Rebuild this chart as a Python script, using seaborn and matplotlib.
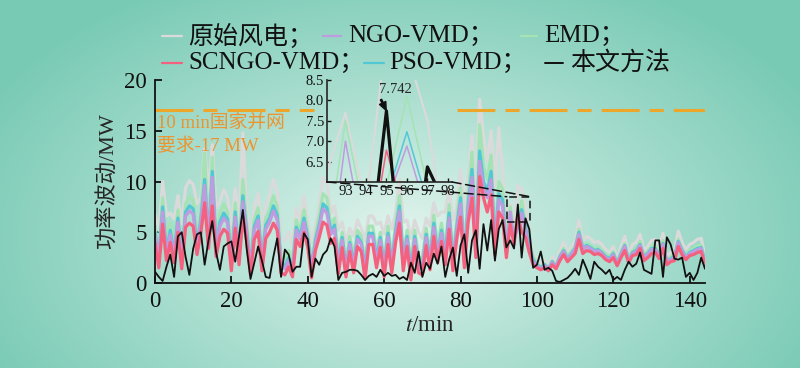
import numpy as np
import pandas as pd
import matplotlib
matplotlib.use('Agg')
import matplotlib.pyplot as plt
import seaborn as sns
from matplotlib.lines import Line2D
from matplotlib.patches import Rectangle, ConnectionPatch

# time axis (min)
t = list(range(145))

# power fluctuation (MW) for each method
raw = [6.8, 5.2, 10.0, 6.6, 6.9, 6.3, 8.6, 5.8, 9.4, 10.1,
       9.7, 7.8, 8.4, 13.2, 9.0, 13.6, 7.4, 8.0, 9.2, 8.4,
       5.4, 9.3, 6.0, 14.8, 7.0, 4.6, 7.5, 8.8, 5.2, 7.6,
       8.6, 10.2, 8.9, 4.6, 4.2, 5.0, 3.8, 7.4, 6.2, 8.6,
       6.0, 4.0, 5.6, 7.8, 10.4, 9.9, 6.8, 7.6, 5.2, 6.0,
       4.0, 5.4, 4.6, 6.2, 5.4, 4.2, 6.6, 6.6, 5.8, 6.0,
       4.8, 6.6, 5.3, 6.9, 10.2, 6.0, 6.2, 4.4, 6.2, 5.0,
       4.4, 6.4, 5.6, 7.9, 6.6, 7.0, 7.0, 9.2, 6.2, 7.4,
       11.2, 7.2, 10.4, 14.5, 9.0, 18.1, 14.5, 12.0, 15.0, 9.6,
       15.3, 11.0, 6.1, 7.7, 5.4, 9.6, 9.2, 7.5, 4.2, 3.0,
       2.2, 1.9, 2.2, 1.8, 2.6, 2.0, 3.2, 4.0, 3.0, 3.6,
       4.2, 6.2, 4.2, 4.6, 4.4, 4.0, 4.1, 3.8, 3.3, 3.0,
       3.6, 2.4, 3.6, 4.6, 2.8, 3.8, 4.0, 4.8, 3.2, 3.6,
       4.2, 4.3, 3.4, 4.9, 2.6, 3.0, 3.2, 5.1, 4.0, 3.3,
       3.8, 4.0, 4.3, 4.4, 2.6]

emd = [5.6, 3.1, 8.4, 3.8, 5.9, 3.6, 7.2, 3.0, 7.8, 8.5,
       8.2, 4.4, 7.0, 12.8, 5.0, 12.4, 4.2, 6.8, 7.8, 7.0,
       2.8, 7.9, 3.4, 10.2, 5.9, 2.4, 6.3, 7.4, 2.8, 6.4,
       7.2, 8.6, 7.5, 2.6, 2.4, 3.2, 2.2, 6.2, 5.2, 7.2,
       5.0, 2.1, 4.7, 6.6, 8.8, 8.4, 5.7, 6.4, 2.5, 5.0,
       2.2, 4.6, 2.6, 5.2, 4.6, 2.0, 5.6, 5.6, 3.1, 5.0,
       2.2, 5.6, 2.6, 5.8, 8.6, 2.8, 5.2, 1.9, 5.2, 2.6,
       2.4, 5.4, 2.9, 6.7, 3.6, 5.9, 3.4, 7.7, 2.8, 6.2,
       9.4, 3.1, 8.8, 12.9, 4.1, 15.6, 11.4, 10.2, 12.6, 4.4,
       10.0, 9.3, 4.1, 7.5, 5.0, 5.9, 8.1, 5.9, 4.0, 2.6,
       1.9, 1.6, 1.9, 1.5, 2.2, 1.7, 2.7, 3.4, 2.6, 3.1,
       3.6, 5.3, 3.6, 3.9, 3.7, 3.4, 3.5, 3.2, 2.8, 2.6,
       3.1, 2.0, 3.1, 3.9, 2.4, 3.2, 3.4, 4.1, 2.7, 3.1,
       3.6, 3.7, 2.9, 4.2, 2.2, 2.6, 2.7, 4.3, 3.4, 2.8,
       3.2, 3.4, 3.7, 3.7, 2.2]

pso = [5.0, 2.4, 7.5, 3.1, 5.2, 2.9, 6.4, 2.3, 7.0, 7.6,
       7.3, 3.7, 6.3, 10.2, 4.3, 11.0, 3.5, 6.0, 6.9, 6.3,
       2.1, 7.0, 2.7, 8.6, 5.2, 1.7, 5.6, 6.6, 2.1, 5.7,
       6.4, 7.6, 6.7, 1.9, 1.7, 2.5, 1.5, 5.5, 4.6, 6.4,
       4.5, 1.4, 4.2, 5.8, 7.8, 7.4, 5.1, 5.7, 1.8, 4.5,
       1.5, 4.0, 1.9, 4.6, 4.0, 1.3, 4.9, 4.9, 2.4, 4.5,
       1.5, 4.9, 1.9, 5.2, 7.6, 2.1, 4.6, 1.2, 4.6, 1.9,
       1.7, 4.8, 2.2, 5.9, 2.9, 5.2, 2.7, 6.9, 2.1, 5.5,
       8.4, 2.4, 7.8, 11.2, 3.4, 13.0, 10.0, 9.0, 11.0, 3.7,
       8.8, 8.2, 3.4, 5.8, 4.6, 5.6, 7.23, 5.5, 3.5, 2.3,
       1.8, 1.5, 1.8, 1.4, 2.1, 1.6, 2.6, 3.2, 2.4, 2.9,
       3.4, 5.0, 3.4, 3.7, 3.5, 3.2, 3.3, 3.0, 2.6, 2.4,
       2.9, 1.9, 2.9, 3.7, 2.2, 3.0, 3.2, 3.8, 2.6, 2.9,
       3.4, 3.4, 2.7, 3.9, 2.1, 2.4, 2.6, 4.1, 3.2, 2.6,
       3.0, 3.2, 3.4, 3.5, 2.1]

ngo = [4.7, 2.1, 7.0, 2.8, 4.8, 2.6, 6.0, 2.0, 6.6, 7.1,
       6.8, 3.4, 5.9, 9.6, 4.0, 10.4, 3.2, 5.6, 6.4, 5.9,
       1.8, 6.5, 2.4, 8.0, 4.9, 1.4, 5.2, 6.2, 1.8, 5.3,
       6.0, 7.1, 6.2, 1.6, 1.4, 2.2, 1.2, 5.2, 4.3, 6.0,
       4.2, 1.1, 3.9, 5.5, 7.3, 6.9, 4.8, 5.3, 1.5, 4.2,
       1.2, 3.8, 1.6, 4.3, 3.8, 1.0, 4.6, 4.6, 2.1, 4.2,
       1.2, 4.6, 1.6, 4.8, 7.1, 1.8, 4.3, 0.9, 4.3, 1.6,
       1.4, 4.5, 1.9, 5.5, 2.6, 4.9, 2.4, 6.4, 1.8, 5.2,
       7.8, 2.1, 7.3, 10.4, 3.1, 12.0, 9.3, 8.4, 10.2, 3.4,
       8.2, 7.6, 3.1, 7.0, 4.3, 5.5, 6.88, 5.2, 3.2, 2.1,
       1.7, 1.4, 1.7, 1.4, 2.0, 1.6, 2.5, 3.1, 2.3, 2.8,
       3.3, 4.8, 3.3, 3.6, 3.4, 3.1, 3.2, 2.9, 2.5, 2.3,
       2.8, 1.8, 2.8, 3.6, 2.1, 2.9, 3.1, 3.7, 2.5, 2.8,
       3.3, 3.3, 2.6, 3.8, 2.0, 2.3, 2.5, 4.0, 3.1, 2.5,
       2.9, 3.1, 3.3, 3.4, 2.0]

scngo = [4.0, 1.5, 5.8, 2.2, 4.0, 2.0, 5.0, 1.4, 5.5, 5.9,
         5.6, 2.8, 4.9, 7.9, 3.4, 7.6, 2.6, 4.6, 5.3, 4.9,
         1.2, 5.4, 1.8, 6.5, 4.1, 0.8, 4.3, 5.1, 1.2, 4.4,
         5.0, 5.9, 5.2, 1.0, 0.8, 1.6, 0.6, 4.3, 3.6, 5.0,
         3.5, 0.5, 3.2, 4.5, 6.0, 5.7, 3.9, 4.4, 0.9, 3.5,
         0.6, 3.1, 1.0, 3.6, 3.1, 0.4, 3.8, 3.8, 1.5, 3.5,
         0.6, 3.8, 1.0, 4.0, 5.9, 1.2, 3.6, 0.3, 3.6, 1.0,
         0.8, 3.7, 1.3, 4.6, 2.0, 4.1, 1.8, 5.3, 1.2, 4.3,
         6.5, 1.5, 6.0, 8.4, 2.5, 10.5, 8.4, 7.0, 8.7, 2.8,
         7.0, 6.4, 2.5, 5.8, 3.8, 6.78, 5.0, 4.5, 3.0, 1.8,
         1.5, 1.3, 1.5, 1.2, 1.8, 1.4, 2.2, 2.8, 2.1, 2.5,
         2.9, 4.3, 2.9, 3.2, 3.1, 2.8, 2.9, 2.7, 2.3, 2.1,
         2.5, 1.7, 2.5, 3.2, 2.0, 2.7, 2.8, 3.4, 2.2, 2.5,
         2.9, 3.0, 2.4, 3.4, 1.8, 2.1, 2.2, 3.6, 2.8, 2.3,
         2.7, 2.8, 3.0, 3.1, 1.8]

ours = [1.1, 0.6, 0.2, 1.6, 2.8, 0.6, 4.6, 5.0, 2.6, 0.8,
        3.4, 4.8, 5.0, 1.8, 4.2, 6.1, 3.0, 1.3, 3.6, 3.9,
        4.1, 2.1, 4.6, 7.2, 3.4, 0.4, 2.0, 3.6, 2.2, 0.6,
        0.5, 2.6, 4.4, 0.6, 3.3, 2.8, 1.1, 1.6, 1.6, 4.9,
        4.3, 0.6, 2.4, 1.8, 2.8, 3.2, 4.4, 3.6, 0.3, 1.0,
        1.1, 1.3, 1.3, 1.2, 0.8, 0.3, 0.7, 0.9, 0.6, 1.3,
        0.7, 1.0, 0.7, 0.8, 0.4, 0.6, 0.3, 2.0, 1.0, 3.1,
        0.6, 2.0, 1.4, 2.9, 1.9, 3.6, 0.6, 2.3, 3.5, 0.7,
        3.7, 4.8, 1.0, 4.2, 5.2, 1.4, 5.8, 3.2, 6.2, 2.2,
        5.3, 6.2, 3.5, 4.2, 3.4, 7.742, 2.5, 6.37, 5.3, 1.5,
        1.8, 3.1, 1.3, 1.5, 1.2, 0.2, 0.1, 0.3, 0.5, 0.9,
        1.4, 0.8, 2.3, 1.4, 0.4, 2.1, 1.6, 1.3, 0.9, 1.3,
        0.3, 0.6, 0.3, 1.3, 2.1, 1.6, 1.9, 3.0, 1.3, 1.1,
        0.9, 4.2, 4.2, 0.6, 4.5, 3.8, 2.4, 2.3, 2.5, 0.6,
        1.0, 0.3, 1.0, 2.5, 1.4]

grid_limit = 17          # 10 min national grid requirement, MW
peak_value = 7.742       # annotated peak of the proposed method
zoom_x = (92.1, 98.2)
zoom_y = (6.0, 8.5)

# draw order (back to front), colours and widths
methods = ['原始风电', 'EMD', 'PSO-VMD', 'NGO-VMD', 'SCNGO-VMD', '本文方法']
series = [raw, emd, pso, ngo, scngo, ours]
colors = {'原始风电': '#dadada', 'EMD': '#a4e3b4', 'PSO-VMD': '#52c8d6',
          'NGO-VMD': '#bf9be0', 'SCNGO-VMD': '#f4617f', '本文方法': '#111111'}
main_lw = {'原始风电': 2.3, 'EMD': 2.3, 'PSO-VMD': 2.3, 'NGO-VMD': 2.3,
           'SCNGO-VMD': 2.3, '本文方法': 1.3}
inset_lw = {'原始风电': 1.5, 'EMD': 1.1, 'PSO-VMD': 1.1, 'NGO-VMD': 1.1,
            'SCNGO-VMD': 1.1, '本文方法': 2.3}

df = pd.DataFrame({'t': t})
for m, s in zip(methods, series):
    df[m] = s
long_df = df.melt(id_vars='t', var_name='method', value_name='power')

sns.set_style('ticks')
plt.rcParams['font.family'] = ['Liberation Serif', 'Noto Sans CJK SC']
plt.rcParams['mathtext.fontset'] = 'stix'
plt.rcParams['axes.unicode_minus'] = False

fig = plt.figure(figsize=(8, 3.68), dpi=100)

# radial teal background
h, w = 368, 800
yy, xx = np.mgrid[0:h, 0:w]
d = np.sqrt(((xx - 400) / 470.0) ** 2 + ((yy - 235) / 290.0) ** 2)
d = np.clip(d, 0, 1) ** 0.9
c_in = np.array([228, 245, 239]) / 255.0
c_out = np.array([120, 202, 180]) / 255.0
img = c_in + (c_out - c_in) * d[..., None]
bg = fig.add_axes([0, 0, 1, 1], zorder=-5)
bg.imshow(img, aspect='auto')
bg.axis('off')

ax = fig.add_axes([155 / 800, 85 / 368, 550 / 800, 203 / 368])
ax.set_facecolor('none')

for m in methods:
    sub = long_df[long_df['method'] == m]
    sns.lineplot(data=sub, x='t', y='power', ax=ax, color=colors[m],
                 lw=main_lw[m], estimator=None, legend=False)

ax.set_xlim(0, 144)
ax.set_ylim(0, 20)
ax.set_xticks([0, 20, 40, 60, 80, 100, 120, 140])
ax.set_yticks([0, 5, 10, 15, 20])
ax.tick_params(direction='in', length=5, width=1.3, labelsize=16.5, pad=6,
               colors='#111111')
for side in ['top', 'right']:
    ax.spines[side].set_visible(False)
for side in ['left', 'bottom']:
    ax.spines[side].set_linewidth(1.3)
    ax.spines[side].set_color('#111111')
ax.set_xlabel('$t$/min', fontsize=16.5, labelpad=2)
ax.set_ylabel('功率波动/MW', fontsize=16, labelpad=4)

# grid requirement line, broken where the inset sits
orange = '#eda52a'
ax.hlines(grid_limit, 0, 41.5, color=orange, lw=2.2, linestyles=[(0, (12.4, 3.3, 4.6, 3.3))])
ax.hlines(grid_limit, 79, 144, color=orange, lw=2.2, linestyles=[(0, (12.4, 3.3, 4.6, 3.3))])
ax.text(0.5, 16.5, '10 min国家并网\n要求-17 MW', color='#ec9430', fontsize=13.5,
        va='top', ha='left', linespacing=1.4)

# zoom rectangle
ax.add_patch(Rectangle((zoom_x[0], zoom_y[0]), zoom_x[1] - zoom_x[0], zoom_y[1] - zoom_y[0],
                       fill=False, ls=(0, (5, 3)), lw=1.1, ec='#111111', zorder=6))

# inset
axin = fig.add_axes([327 / 800, 186 / 368, 125 / 800, 102 / 368])
axin.set_facecolor('none')
for m in methods:
    sub = long_df[long_df['method'] == m]
    sns.lineplot(data=sub, x='t', y='power', ax=axin, color=colors[m],
                 lw=inset_lw[m], estimator=None, legend=False)
axin.set_xlim(*zoom_x)
axin.set_ylim(*zoom_y)
axin.set_xticks([93, 94, 95, 96, 97, 98])
axin.set_yticks([6.5, 7.0, 7.5, 8.0, 8.5])
axin.set_yticklabels(['6.5', '7.0', '7.5', '8.0', '8.5'])
axin.set_xlabel('')
axin.set_ylabel('')
axin.tick_params(direction='in', length=3, width=1.0, labelsize=10.5, pad=2,
                 colors='#111111')
for side in ['top', 'right']:
    axin.spines[side].set_visible(False)
for side in ['left', 'bottom']:
    axin.spines[side].set_linewidth(1.2)
axin.annotate(f'{peak_value:.3f}', xy=(95, peak_value), xytext=(95.45, 8.27),
              ha='center', va='center', fontsize=10.5,
              arrowprops=dict(facecolor='#111111', edgecolor='#111111', width=1.0,
                              headwidth=5, headlength=6, shrink=0.03))

for xa in zoom_x:
    con = ConnectionPatch(xyA=(xa, zoom_y[0]), coordsA=axin.transData,
                          xyB=(xa, zoom_y[1]), coordsB=ax.transData,
                          color='#111111', lw=1.1, ls=(0, (6, 3)))
    fig.add_artist(con)

# hand-placed legend (two rows, uneven spacing as in the figure)
legend_items = [('原始风电；', '原始风电', 162, 182, 188, 36),
                ('NGO-VMD；', 'NGO-VMD', 323, 341, 348, 36),
                ('EMD；', 'EMD', 521, 537, 544, 36),
                ('SCNGO-VMD；', 'SCNGO-VMD', 162, 182, 188, 63),
                ('PSO-VMD；', 'PSO-VMD', 364, 384, 389, 63),
                ('本文方法', '本文方法', 545, 563, 570, 63)]
for label, m, x0, x1, xt, yc in legend_items:
    fy = 1 - yc / 368
    fig.add_artist(Line2D([x0 / 800, x1 / 800], [fy, fy], color=colors[m],
                          lw=1.6 if m != '本文方法' else 1.4, transform=fig.transFigure))
    fig.text(xt / 800, fy, label, fontsize=18, va='center', ha='left', color='#111111')

fig.savefig('out.png', dpi=100)
